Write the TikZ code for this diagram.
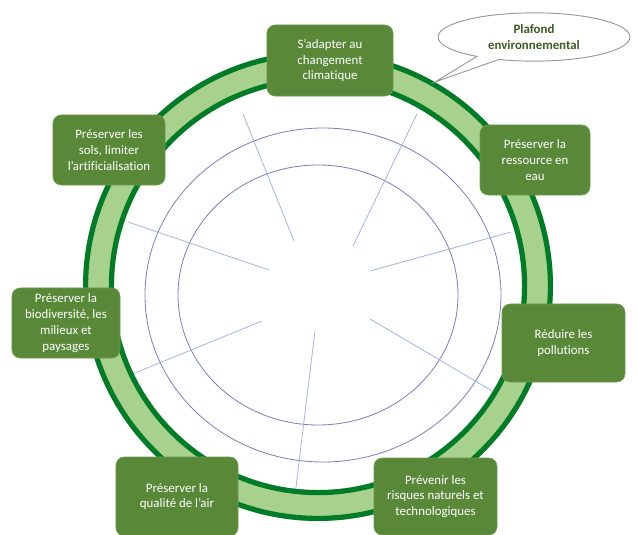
\documentclass[tikz,border=0pt]{standalone}
\usepackage{fontspec}
\setmainfont{Carlito}[Ligatures={TeX,NoCommon}]
\usetikzlibrary{shapes.callouts}

\definecolor{goalgreen}{RGB}{88,136,56}
\definecolor{goaledge}{RGB}{110,155,80}
\definecolor{ringdark}{RGB}{0,124,40}
\definecolor{ringlight}{RGB}{169,209,142}
\definecolor{circblue}{RGB}{122,130,190}
\definecolor{spokeblue}{RGB}{165,182,222}
\definecolor{ceiltext}{RGB}{60,92,38}

\tikzset{
  goal/.style={rectangle, rounded corners=0.25cm, fill=goalgreen, draw=goaledge,
    line width=0.6pt, text=white, align=center, inner sep=2pt,
    font=\fontsize{11}{13.5}\selectfont},
  spoke/.style={spokeblue, line width=0.7pt},
  bubble/.style={ellipse callout, draw=gray!80, line width=0.8pt, fill=white,
    text=ceiltext, align=center, font=\bfseries\fontsize{11}{14}\selectfont,
    minimum width=5.76cm, minimum height=1.45cm}
}

\begin{document}
\begin{tikzpicture}[x=0.03cm, y=-0.03cm]
  \useasboundingbox (0,0) rectangle (638,535);

  % Define the green ring and the two blue circles
  \def\ringout{(318,286) circle (235)}
  \def\ringin{(318,286) circle (204)}
  \def\circleouter{(323,295) ellipse (178 and 167)}
  \def\circleinner{(318,295) ellipse (140 and 130)}

  % Blue circles
  \draw[circblue, line width=0.7pt] \circleouter;
  \draw[circblue, line width=0.7pt] \circleinner;

  % Spokes from the middle out to the ring
  \foreach \i/\ax/\ay/\bx/\by in {1/294/241/243/114, 2/353/246/417/114,
      3/370/271/511/232, 4/370/319/494/392, 5/315/331/295/495,
      6/262/321/130/375, 7/269/270/128/222} {
    \coordinate (in\i) at (\ax,\ay);
    \coordinate (out\i) at (\bx,\by);
    \draw[spoke] (in\i) -- (out\i);
  }

  % Fill the band, then its two dark edges
  \fill[ringlight, even odd rule] \ringout \ringin;
  \draw[ringdark, line width=4.4pt] (318,286) circle (232.4);
  \draw[ringdark, line width=4.4pt] (318,286) circle (206.6);

  % The seven goals sitting on the ring
  \node[goal, minimum width=3.78cm, minimum height=2.13cm] (climat) at (330,60.5)
    {S'adapter au\\changement\\climatique};
  \node[goal, minimum width=3.3cm, minimum height=2.1cm] (eau) at (535,160)
    {Préserver la\\ressource en\\eau};
  \node[goal, minimum width=3.69cm, minimum height=2.34cm] (pollution) at (563.5,343)
    {Réduire les\\pollutions};
  \node[goal, minimum width=3.69cm, minimum height=2.31cm] (risques) at (435.5,496.5)
    {Prévenir les\\risques naturels et\\technologiques};
  \node[goal, minimum width=3.66cm, minimum height=2.37cm] (air) at (177,496.5)
    {Préserver la\\qualité de l'air};
  \node[goal, minimum width=3.24cm, minimum height=2.1cm] (biodiv) at (66,323)
    {Préserver la\\biodiversité, les\\milieux et\\paysages};
  \node[goal, minimum width=3.36cm, minimum height=2.1cm] (sols) at (109,150)
    {Préserver les\\sols, limiter\\l'artificialisation};

  % Callout pointing at the outer edge of the ring
  \coordinate (tip) at (435,82);
  \node[bubble, callout absolute pointer={(tip)}] (plafond) at (534,37)
    {Plafond\\environnemental};
\end{tikzpicture}
\end{document}
